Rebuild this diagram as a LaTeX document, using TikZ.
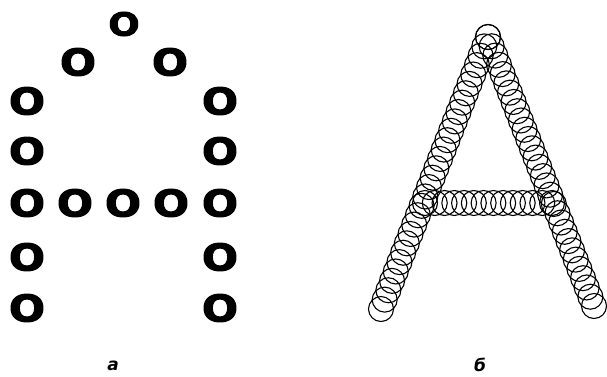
\documentclass[tikz,border=0pt]{standalone}
\usepackage{fontspec}
\newfontfamily\lettfont{DejaVu Sans}
\newfontfamily\heavyfont[FakeBold=2.5]{DejaVu Sans Bold}
\usetikzlibrary{calc}

\tikzset{
  ochar/.style={font=\heavyfont\fontsize{37}{37}\selectfont, inner sep=0pt},
  ocharsmall/.style={font=\heavyfont\fontsize{32}{32}\selectfont, inner sep=0pt},
  ring/.style={draw=black, line width=1.1pt},
  caption/.style={font=\lettfont\bfseries\itshape\fontsize{17}{17}\selectfont, inner sep=0pt}
}
\newcommand{\wideO}{\scalebox{1.15}[1]{O}}

\begin{document}
\begin{tikzpicture}[x=1pt,y=-1pt]
\useasboundingbox (0,0) rectangle (607,376);

% Letter A made of single characters
\node[ocharsmall] (o1) at (124,24) {\wideO};
\node[ochar] (o2) at (78,62) {\wideO};
\node[ochar] (o3) at (170,62) {\wideO};
\node[ochar] (o4) at (27,101) {\wideO};
\node[ochar] (o5) at (220,101) {\wideO};
\node[ochar] (o6) at (27,151) {\wideO};
\node[ochar] (o7) at (220,151) {\wideO};
\foreach \x [count=\i] in {27,75,123,171,220}
  \node[ochar] (bar\i) at (\x,203) {\wideO};
\node[ochar] (o8) at (27,257) {\wideO};
\node[ochar] (o9) at (220,257) {\wideO};
\node[ochar] (o10) at (27,308) {\wideO};
\node[ochar] (o11) at (220,308) {\wideO};

% Letter A made of overlapping circles
\coordinate (apex) at (488,37);
\coordinate (footL) at (381,309);
\coordinate (footR) at (594,306);
\coordinate (barL) at (425,203);
\coordinate (barR) at (552,203);

\foreach \i in {0,...,29}{
  \draw[ring] ($(apex)!\i/29!(footL)$) circle[radius=12.5pt];
  \draw[ring] ($(apex)!\i/29!(footR)$) circle[radius=12.5pt];
}
\foreach \i in {0,...,13}
  \draw[ring] ($(barL)!\i/13!(barR)$) circle[radius=12.5pt];

% Captions
\node[caption] (capa) at (113,366) {а};
\node[caption] (capb) at (480,365) {б};
\end{tikzpicture}
\end{document}
